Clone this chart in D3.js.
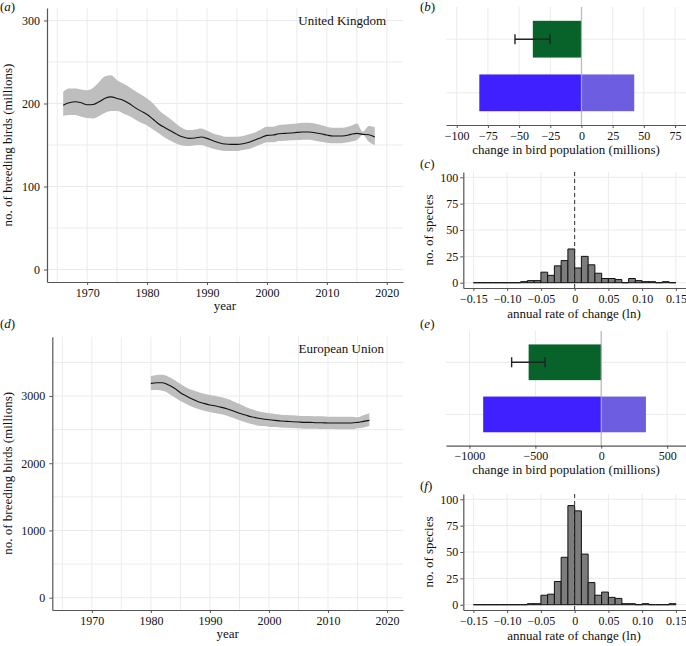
<!DOCTYPE html>
<html><head><meta charset="utf-8">
<script src="https://cdn.jsdelivr.net/npm/d3@7"></script>
<style>
body{margin:0;background:#fff}
svg{display:block}
text{font-family:"Liberation Serif","Times New Roman",serif;fill:#111}
</style>
</head><body>
<svg id="chart" width="686" height="646"></svg>
<script>
// ---------- DATA ----------
const ukYears = [1966,1967,1968,1969,1970,1971,1972,1973,1974,1975,1976,1977,1978,1979,1980,1981,1982,1983,1984,1985,1986,1987,1988,1989,1990,1991,1992,1993,1994,1995,1996,1997,1998,1999,2000,2001,2002,2003,2004,2005,2006,2007,2008,2009,2010,2011,2012,2013,2014,2015,2016,2017,2018];
const ukMid = [198,200.8,202,200.8,198.4,198.8,202,206.4,208,206,204,200,195,190.8,186.8,181,175,170.8,166.8,162.8,159.6,158,158.4,159.6,158,155.2,152.8,151.2,150.8,150.8,151.6,153.2,156,158.8,161.6,162,163.6,164,164.4,165.2,165.6,165.6,164.8,163.6,162,160.8,160.8,161.2,162.8,164,162.8,162.4,159.6];
const ukHi = [214,218,218,216.8,216,219,226,232.8,234,228,224,220,215,210.8,206,200,192,186,180.8,174.8,170,168,168.8,170,167.2,164,162,160,160,160,160.8,162.8,165.2,168.8,172,172,174,174.8,175.2,176,176.8,176.8,176,174,172,170.8,170.8,171.2,173.2,176,166,172.8,171.2];
const ukLo = [184.8,186,186,184,182.4,182,185,188.8,190.8,190.8,188,184.8,180.8,176.8,173.6,168.8,164,158.8,154.8,151.2,149.2,148.8,149.6,150,148,145.6,144,142.8,142.8,142.8,144,145.2,148,150.8,153.2,153.2,154.8,155.2,155.6,156,156.4,156.4,155.2,154,152.8,152,152,152.8,154,156,162,154,150];

const euYears = [1980,1981,1982,1983,1984,1985,1986,1987,1988,1989,1990,1991,1992,1993,1994,1995,1996,1997,1998,1999,2000,2001,2002,2003,2004,2005,2006,2007,2008,2009,2010,2011,2012,2013,2014,2015,2016,2017];
const euMid = [3188,3198,3198,3163,3114,3049,3000,2955,2915,2890,2866,2851,2831,2806,2776,2742,2717,2692,2672,2657,2647,2638,2628,2623,2618,2613,2608,2608,2603,2603,2598,2598,2598,2598,2598,2608,2623,2638];
const euHi = [3297,3312,3317,3287,3237,3178,3128,3089,3059,3034,3014,3000,2980,2955,2920,2881,2841,2806,2776,2757,2742,2732,2722,2717,2712,2707,2702,2702,2697,2697,2692,2692,2692,2692,2692,2682,2712,2742];
const euLo = [3089,3089,3079,3039,2980,2925,2881,2841,2806,2781,2762,2742,2727,2702,2672,2638,2608,2583,2563,2553,2543,2538,2533,2529,2524,2519,2514,2514,2514,2509,2509,2509,2504,2504,2504,2519,2533,2553];

// bar charts: net change (with CI) and gross losses / gains (millions)
const barCategories = ["net", "gross"];
const ukNet = -39, ukNetLow = -53.3, ukNetHigh = -25.3, ukLoss = -81.9, ukGain = 42.3;
const euNet = -551, euNetLow = -680, euNetHigh = -427, euLoss = -896, euGain = 339;

// histograms of annual rate of change (bins of width 0.01 from -0.15 to 0.15)
const binStarts = [-0.15,-0.14,-0.13,-0.12,-0.11,-0.10,-0.09,-0.08,-0.07,-0.06,-0.05,-0.04,-0.03,-0.02,-0.01,0,0.01,0.02,0.03,0.04,0.05,0.06,0.07,0.08,0.09,0.10,0.11,0.12,0.13,0.14];
const binWidth = 0.01;
const ukCounts = [0,0,0,0,0,0,0,1,2,2,10,7,16,21,32,14,25,17,9,4,4,3,0,4,2,1,1,0,1,0];
const euCounts = [0,0,0,0,0,0,0,0,1,1,9,10,22,45,94,89,48,21,9,12,7,6,1,1,0,1,0,0,0,1];

// ticks
const yearTicks = [1970,1980,1990,2000,2010,2020];
const yearMinor = [1965,1975,1985,1995,2005,2015];
const ukYTicks = [0,100,200,300];
const ukYMinor = [50,150,250];
const euYTicks = [0,1000,2000,3000];
const euYMinor = [500,1500,2500,3500];
const ukBarTicks = [-100,-75,-50,-25,0,25,50,75];
const euBarTicks = [-1000,-500,0,500];
const histXTicks = [-0.15,-0.10,-0.05,0,0.05,0.10,0.15];
const histXLabels = ["\u22120.15","\u22120.10","\u22120.05","0","0.05","0.10","0.15"];
const histYTicks = [0,25,50,75,100];

// ---------- STYLE ----------
const gridColor = "#ebebeb", axisColor = "#555", ribbonColor = "#bebebe";
const histFill = "#7c7c7c", green = "#07632a", blue = "#4120ff", lightBlue = "#6d5de0";
const tickFont = 12, titleFont = 13;

const svg = d3.select("#chart");

function styleAxis(sel) {
  sel.attr("font-family", null).attr("font-size", null);
  sel.select(".domain").attr("stroke", axisColor).attr("stroke-width", 1.2);
  sel.selectAll(".tick line").attr("stroke", axisColor).attr("stroke-width", 1);
  sel.selectAll(".tick text").style("font-size", tickFont + "px").attr("fill", "#111");
}
function vgrid(g, x, vals, top, bottom) {
  g.append("g").selectAll("line").data(vals).join("line")
    .attr("x1", d => x(d)).attr("x2", d => x(d)).attr("y1", top).attr("y2", bottom)
    .attr("stroke", gridColor).attr("stroke-width", 1);
}
function hgrid(g, y, vals, left, right) {
  g.append("g").selectAll("line").data(vals).join("line")
    .attr("y1", d => y(d)).attr("y2", d => y(d)).attr("x1", left).attr("x2", right)
    .attr("stroke", gridColor).attr("stroke-width", 1);
}
function panelLabel(x, y, letter) {
  const t = svg.append("text").attr("x", x).attr("y", y).style("font-size", "13px");
  t.append("tspan").text("(");
  t.append("tspan").style("font-style", "italic").text(letter);
  t.append("tspan").text(")");
}
function yTitle(x, y, txt) {
  svg.append("text").attr("transform", `translate(${x},${y}) rotate(-90)`)
    .attr("text-anchor", "middle").style("font-size", titleFont + "px").text(txt);
}
function xTitle(x, y, txt) {
  svg.append("text").attr("x", x).attr("y", y)
    .attr("text-anchor", "middle").style("font-size", titleFont + "px").text(txt);
}

// ---------- LINE PANELS ----------
function linePanel(o) {
  const g = svg.append("g");
  const x = d3.scaleLinear().domain([1963.3, 2022.7]).range([o.left, o.right]);
  const y = d3.scaleLinear().domain(o.yDomain).range([o.bottom, o.top]);
  vgrid(g, x, yearMinor.concat(yearTicks), o.top, o.bottom);
  hgrid(g, y, o.yMinor.concat(o.yTicks), o.left, o.right);
  const area = d3.area().curve(d3.curveMonotoneX)
    .x((d, i) => x(o.years[i])).y0((d, i) => y(o.lo[i])).y1((d, i) => y(o.hi[i]));
  g.append("path").datum(o.mid).attr("d", area).attr("fill", ribbonColor);
  const line = d3.line().curve(d3.curveMonotoneX).x((d, i) => x(o.years[i])).y(d => y(d));
  g.append("path").datum(o.mid).attr("d", line).attr("fill", "none")
    .attr("stroke", "#111").attr("stroke-width", 1.1);
  g.append("g").attr("transform", `translate(0,${o.bottom})`)
    .call(d3.axisBottom(x).tickValues(yearTicks).tickFormat(d3.format("d")).tickSize(3).tickSizeOuter(0).tickPadding(3))
    .call(styleAxis);
  g.append("g").attr("transform", `translate(${o.left},0)`)
    .call(d3.axisLeft(y).tickValues(o.yTicks).tickFormat(d3.format("d")).tickSize(3).tickSizeOuter(0).tickPadding(4))
    .call(styleAxis);
  g.append("text").attr("x", o.annX).attr("y", o.annY).attr("text-anchor", "end")
    .style("font-size", "13px").text(o.annotation);
  xTitle((o.left + o.right) / 2, o.bottom + 28, "year");
  yTitle(12, (o.top + o.bottom) / 2, "no. of breeding birds (millions)");
}

linePanel({left: 47, right: 403, top: 8, bottom: 282, yDomain: [-15, 315],
  yTicks: ukYTicks, yMinor: ukYMinor, years: ukYears, mid: ukMid, lo: ukLo, hi: ukHi,
  annotation: "United Kingdom", annX: 386, annY: 25});
linePanel({left: 52.3, right: 403, top: 336.7, bottom: 610, yDomain: [-183, 3882],
  yTicks: euYTicks, yMinor: euYMinor, years: euYears, mid: euMid, lo: euLo, hi: euHi,
  annotation: "European Union", annX: 384, annY: 353});

// ---------- BAR PANELS ----------
function barPanel(o) {
  const g = svg.append("g");
  const x = d3.scaleLinear().domain(o.xDomain).range([o.left, o.right]);
  const y = d3.scaleBand().domain(barCategories).range([o.top, o.bottom])
    .paddingInner(0.315).paddingOuter(0.2575);
  vgrid(g, x, o.xTicks, o.top, o.bottom);
  g.append("g").selectAll("line").data(barCategories).join("line")
    .attr("x1", o.left).attr("x2", o.right)
    .attr("y1", d => y(d) + y.bandwidth() / 2).attr("y2", d => y(d) + y.bandwidth() / 2)
    .attr("stroke", gridColor).attr("stroke-width", 1);
  const bw = y.bandwidth();
  g.append("rect").attr("x", x(Math.min(0, o.net))).attr("width", Math.abs(x(o.net) - x(0)))
    .attr("y", y("net")).attr("height", bw).attr("fill", green);
  g.append("rect").attr("x", x(o.loss)).attr("width", x(0) - x(o.loss))
    .attr("y", y("gross")).attr("height", bw).attr("fill", blue);
  g.append("rect").attr("x", x(0)).attr("width", x(o.gain) - x(0))
    .attr("y", y("gross")).attr("height", bw).attr("fill", lightBlue);
  g.append("line").attr("x1", x(0)).attr("x2", x(0)).attr("y1", o.top).attr("y2", o.bottom)
    .attr("stroke", "#b0b0b0").attr("stroke-opacity", 0.8).attr("stroke-width", 1.3);
  const cy = y("net") + bw / 2;
  const eb = g.append("g").attr("stroke", "#222").attr("stroke-width", 1.4);
  eb.append("line").attr("x1", x(o.low)).attr("x2", x(o.high)).attr("y1", cy).attr("y2", cy);
  eb.append("line").attr("x1", x(o.low)).attr("x2", x(o.low)).attr("y1", cy - 5).attr("y2", cy + 5);
  eb.append("line").attr("x1", x(o.high)).attr("x2", x(o.high)).attr("y1", cy - 5).attr("y2", cy + 5);
  g.append("g").attr("transform", `translate(0,${o.bottom})`)
    .call(d3.axisBottom(x).tickValues(o.xTicks).tickFormat(d3.format("d")).tickSize(3).tickSizeOuter(0).tickPadding(3))
    .call(styleAxis);
  xTitle(566, o.bottom + 28.5, "change in bird population (millions)");
}

barPanel({left: 446, right: 686, top: 7, bottom: 125, xDomain: [-108.6, 83.8],
  xTicks: ukBarTicks, net: ukNet, low: ukNetLow, high: ukNetHigh, loss: ukLoss, gain: ukGain});
barPanel({left: 446, right: 686, top: 331, bottom: 445.7, xDomain: [-1178, 643],
  xTicks: euBarTicks, net: euNet, low: euNetLow, high: euNetHigh, loss: euLoss, gain: euGain});

// ---------- HISTOGRAM PANELS ----------
function histPanel(o) {
  const g = svg.append("g");
  const x = d3.scaleLinear().domain([-0.165, 0.165]).range([o.left, o.right]);
  const y = d3.scaleLinear().domain([-5, 105]).range([o.bottom, o.top]);
  vgrid(g, x, histXTicks, o.top, o.bottom);
  hgrid(g, y, histYTicks, o.left, o.right);
  g.append("g").selectAll("path").data(o.counts).join("path")
    .attr("d", (d, i) => {
      const x0 = x(binStarts[i]), x1 = x(binStarts[i] + binWidth), y0 = y(0), y1 = y(d);
      return `M${x0},${y0}V${y1}H${x1}V${y0}Z`;
    })
    .attr("fill", histFill).attr("stroke", "#111").attr("stroke-width", 1);
  g.append("line").attr("x1", x(0)).attr("x2", x(0)).attr("y1", o.top).attr("y2", o.bottom)
    .attr("stroke", "#333").attr("stroke-width", 1).attr("stroke-dasharray", "4,3");
  g.append("g").attr("transform", `translate(0,${o.bottom})`)
    .call(d3.axisBottom(x).tickValues(histXTicks).tickFormat((d, i) => histXLabels[i]).tickSize(3).tickSizeOuter(0).tickPadding(3))
    .call(styleAxis);
  g.append("g").attr("transform", `translate(${o.left},0)`)
    .call(d3.axisLeft(y).tickValues(histYTicks).tickFormat(d3.format("d")).tickSize(3).tickSizeOuter(0).tickPadding(2))
    .call(styleAxis);
  xTitle(574, o.bottom + 30, "annual rate of change (ln)");
  yTitle(433, (o.top + o.bottom) / 2, "no. of species");
}

histPanel({left: 463.3, right: 686, top: 172, bottom: 288, counts: ukCounts});
histPanel({left: 463.3, right: 686, top: 494, bottom: 610, counts: euCounts});

// ---------- PANEL LABELS ----------
panelLabel(0, 11, "a");
panelLabel(420, 11, "b");
panelLabel(420, 168, "c");
panelLabel(0, 328, "d");
panelLabel(420, 328, "e");
panelLabel(420, 490, "f");
</script>
</body></html>
